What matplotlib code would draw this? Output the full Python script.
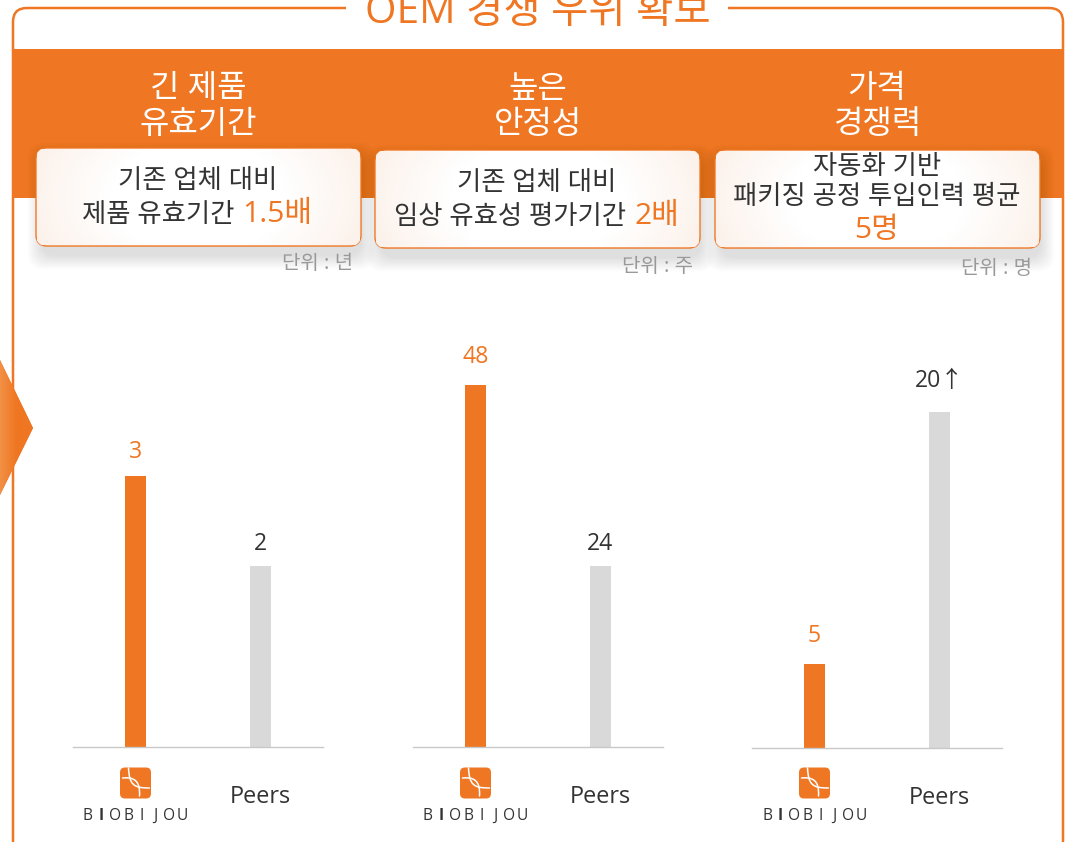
import numpy as np
import matplotlib
matplotlib.use('Agg')
import matplotlib.pyplot as plt
from matplotlib.patches import FancyBboxPatch, Polygon, Rectangle, PathPatch
from matplotlib.path import Path
from matplotlib.colors import LinearSegmentedColormap

plt.rcParams['font.family'] = ['Open Sans', 'Noto Sans CJK KR', 'DejaVu Sans']

title = 'OEM 경쟁 우위 확보'
headings = [['긴 제품', '유효기간'], ['높은', '안정성'], ['가격', '경쟁력']]
units = ['단위 : 년', '단위 : 주', '단위 : 명']
categories = ['BIOBIJOU', 'Peers']
shelf_life = [3, 2]
trial_weeks = [48, 24]
staff = [5, 20]
value_labels = [['3', '2'], ['48', '24'], ['5', '20↑']]

ORANGE = '#ef7622'
DARK = '#333333'
W, H = 1065, 842
fig = plt.figure(figsize=(W / 100, H / 100), dpi=100, facecolor='white')
bg = fig.add_axes([0, 0, 1, 1])
bg.set_xlim(0, W); bg.set_ylim(H, 0); bg.axis('off')

def T(x, y, s, size, color=DARK, ha='center', va='center', **kw):
    return bg.text(x, y, s, fontsize=size * 0.72, color=color, ha=ha, va=va, **kw)

# outer frame
frame = FancyBboxPatch((13, 8), 1050, 900, boxstyle='round,pad=0,rounding_size=14',
                       fc='white', ec=ORANGE, lw=1.8, zorder=1)
bg.add_patch(frame)
bg.add_patch(Rectangle((346, 0), 382, 20, fc='white', ec='none', zorder=2))
T(537.5, 23, title, 40.5, ORANGE, va='baseline', zorder=3)
bg.add_patch(Rectangle((13, 49), 1050, 149, fc=ORANGE, ec='none', zorder=2))

# left arrow
arrow = Polygon([(0, 360), (33, 428), (0, 495)], fc=ORANGE, ec='none', zorder=2)
bg.add_patch(arrow)
grad_a = np.linspace(0, 1, 64)[None, :]
cm_a = LinearSegmentedColormap.from_list('a', ['#f29045', ORANGE, ORANGE])
im = bg.imshow(grad_a, extent=(0, 33, 495, 360), cmap=cm_a, aspect='auto', zorder=2.1)
im.set_clip_path(arrow)

# cards
cards = [(36, 148), (375, 150), (715, 150)]
cw, ch = 325, 98
cm_c = LinearSegmentedColormap.from_list('c', ['#ffffff', '#ffffff', '#fcf1ea'])
for (x, y) in cards:
    for i in range(16):
        g = 16 - i
        bg.add_patch(FancyBboxPatch((x + 6 - g * .9, y + 9 - g * .9), cw + g * 1.8 - 6, ch + g * 1.8,
                                    boxstyle='round,pad=0,rounding_size=16', fc='black', ec='none',
                                    alpha=0.009, zorder=3))
    card = FancyBboxPatch((x, y), cw, ch, boxstyle='round,pad=0,rounding_size=11',
                          fc='white', ec=ORANGE, lw=1.0, zorder=4)
    bg.add_patch(card)
    gx, gy = np.meshgrid(np.linspace(-1, 1, 200), np.linspace(-1, 1, 80))
    d = np.sqrt(gx ** 2 + (gy * 0.45) ** 2)
    im = bg.imshow(d, extent=(x + 1, x + cw - 1, y + ch - 1, y + 1), cmap=cm_c, vmin=0, vmax=1.1,
                   aspect='auto', zorder=4.1)
    im.set_clip_path(card)
bg.set_xlim(0, W); bg.set_ylim(H, 0)

# headings
for cx, (a, b) in zip([198, 538, 877], headings):
    T(cx, 89, a, 32, 'white', zorder=5)
    T(cx, 124, b, 32, 'white', zorder=5)

# card text
Z = dict(zorder=6)
T(198, 181, '기존 업체 대비', 26.4, **Z)
T(234, 215, '제품 유효기간', 26.4, ha='right', **Z)
T(242, 214, '1.5배', 30, ORANGE, ha='left', **Z)
T(537, 183, '기존 업체 대비', 26.4, **Z)
T(626, 217, '임상 유효성 평가기간', 26.4, ha='right', **Z)
T(635, 216, '2배', 30, ORANGE, ha='left', **Z)
T(877, 168, '자동화 기반', 26.4, **Z)
T(877, 198, '패키징 공정 투입인력 평균', 26.4, **Z)
T(877, 230, '5명', 30, ORANGE, **Z)

for (x, y), u in zip([(353, 264), (693, 267), (1032, 269)], units):
    T(x, y, u, 20, '#999999', ha='right', zorder=6)

# bar panels
panels = [
    (73, 747, 90.33, shelf_life, [9, 8]),
    (413, 747, 7.54, trial_weeks, [12, 8]),
    (752, 748, 16.8, staff, [12, 14]),
]
TOP = 300
for (left, base, ppu, vals, gaps), labs in zip(panels, value_labels):
    ax = fig.add_axes([left / W, 1 - base / H, 250 / W, (base - TOP) / H])
    ax.patch.set_alpha(0)
    ax.set_xlim(-0.5, 1.5)
    ax.set_ylim(0, (base - TOP) / ppu)
    ax.bar([0, 1], vals, width=0.168, color=[ORANGE, '#d9d9d9'])
    for s in ['top', 'left', 'right']:
        ax.spines[s].set_visible(False)
    ax.spines['bottom'].set_color('#c8c8c8')
    ax.spines['bottom'].set_linewidth(1.0)
    ax.set_yticks([])
    ax.set_xticks([1], [categories[1]])
    ax.tick_params(axis='x', length=0, pad=27.5, labelsize=23.5 * 0.72, labelcolor=DARK)
    for i, (v, l) in enumerate(zip(vals, labs)):
        ax.annotate(l, (i, v), xytext=(0, gaps[i] - 0.5), textcoords='offset points', ha='center', va='bottom',
                    fontsize=23 * 0.72, color=ORANGE if i == 0 else DARK)
    # logo and wordmark
    cx = left + 62.5
    bg.add_patch(FancyBboxPatch((cx - 15.5, 767.5), 31, 31, boxstyle='round,pad=0,rounding_size=5',
                                fc=ORANGE, ec='none', zorder=5))
    strands = [
        [(cx - 13, 778), (cx - 2, 777), (cx + 5, 780), (cx + 4, 796)],
        [(cx - 7, 768), (cx - 6, 785), (cx - 2, 788), (cx + 14, 788)],
    ]
    for s in strands:
        bg.add_patch(PathPatch(Path(s, [Path.MOVETO, Path.CURVE4, Path.CURVE4, Path.CURVE4]),
                               fc='none', ec='white', lw=1.1, capstyle='round', zorder=6))
    for j, ch_ in enumerate(categories[0]):
        T(cx - 47.5 + j * 13.5, 816, ch_, 15.5, DARK, fontweight='bold' if j == 1 else 'normal', zorder=6)

fig.savefig('out.png', dpi=100)
